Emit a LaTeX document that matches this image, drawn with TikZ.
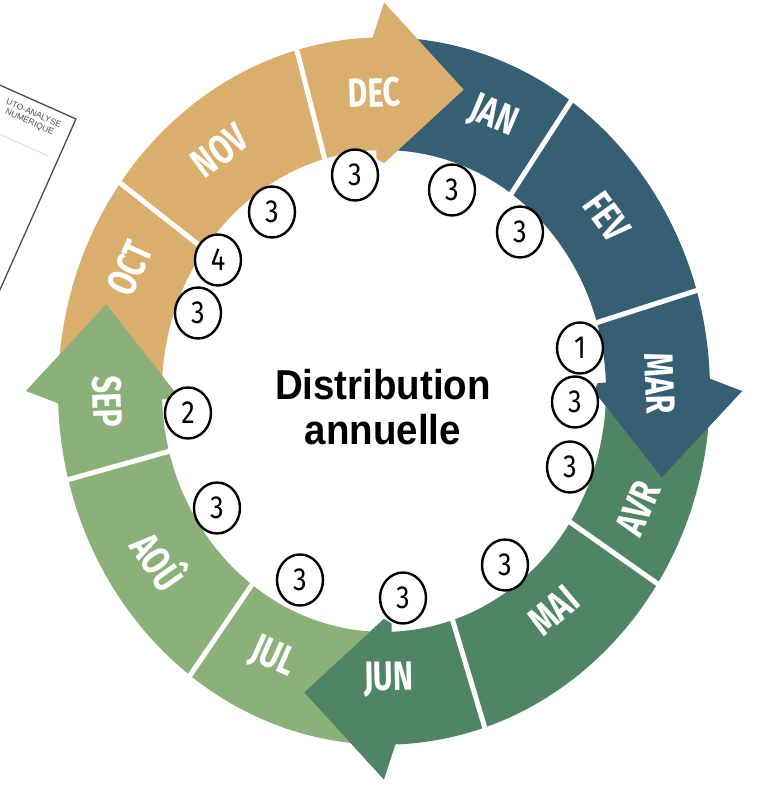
\documentclass[tikz,border=0pt]{standalone}
\usepackage{fontspec}
\setmainfont{Liberation Sans}
\newfontfamily\moisfont{Fira Sans}
\usepackage{graphicx}
\usetikzlibrary{shapes.geometric}

\definecolor{sable}{HTML}{DAAE6C}
\definecolor{ardoise}{HTML}{365F74}
\definecolor{vertfonce}{HTML}{4F8464}
\definecolor{vertclair}{HTML}{8BB07A}

% one arrow of the cycle: tail angle, head angle, colour
\newcommand{\fleche}[3]{%
	\fill[#3] (#1:326) arc[start angle=#1,end angle=#2,radius=326]
	-- (#2:358) -- ({#2-16}:289) -- (#2:210) -- (#2:222)
	arc[start angle=#2,end angle=#1,radius=222] -- cycle;}
% head again, on top of the next tail: base angle, colour
\newcommand{\pointe}[2]{%
	\fill[#2] ({#1+2}:214) -- ({#1+2}:326) -- (#1:358) -- ({#1-16}:289) -- (#1:210) -- cycle;}

\begin{document}
\begin{tikzpicture}
	[x=1pt,y=1.085pt%
	,separ/.style={white,line width=5pt}%
	,mois/.style={text=white,%
		inner sep=0pt,%
		font=\moisfont\bfseries\fontsize{41}{41}\selectfont}%
	,compte/.style={ellipse,%
		draw=black,%
		fill=white,%
		line width=2.4pt,%
		minimum width=46pt,%
		minimum height=51pt,%
		inner sep=0pt,%
		font=\moisfont\fontsize{32}{32}\selectfont}%
	,titre/.style={align=center,%
		inner sep=0pt,%
		font=\bfseries\fontsize{38.5}{45}\selectfont}%
	,fiche/.style={anchor=south east,%
		inner sep=0pt,%
		transform shape,%
		text=black!70,%
		font=\fontsize{8.5}{8.5}\selectfont}]
	\useasboundingbox (-384pt,-395pt) rectangle (373pt,391pt);

	% sheet in the corner
	\begin{scope}[x=1pt,y=1pt,shift={(-308pt,272pt)},rotate=-24]
		\filldraw[fill=white,draw=black!70,line width=1.3pt] (-260,-260) rectangle (0,0);
		\draw[black!15,line width=0.8pt] (-260,-45) -- (-10,-45);
		\node[fiche] (fiche1) at (-11,-15) {UTO-ANALYSE};
		\node[fiche] (fiche2) at (-15,-26) {NUMÉRIQUE};
	\end{scope}

	% the four arrows
	\fleche{180}{90}{sable}
	\fleche{90}{0}{ardoise}
	\fleche{0}{-90}{vertfonce}
	\fleche{270}{180}{vertclair}
	\pointe{90}{sable}
	\pointe{0}{ardoise}
	\pointe{-90}{vertfonce}
	\pointe{180}{vertclair}

	% months
	\foreach \a in {144,105.5,55,16.5,-33,-72,233.5,194.5}
		\draw[separ] (\a:218) -- (\a:330);
	\foreach \nom/\a/\r/\rot [count=\i] in {DEC/92/275/2,NOV/126.5/276/36.5,OCT/156/278/66,%
		SEP/182/277/-88,AOÛ/214.8/272/-55,JUL/245.7/270/-24,JUN/271/266/1,%
		MAI/-50/264/40,AVR/-23/276/67,MAR/1.5/276/-88.5,FEV/35.7/275/-54,JAN/66.6/275/-23}
		\node[mois,rotate=\rot] (m\i) at (\a:\r) {\scalebox{0.74}[1]{\nom}};

	% counts
	\foreach \x/\y/\v [count=\i] in {-29/216/3,68/201/3,136/159/3,196/43/1,191/-11/3,%
		186/-76/3,121/-174/3,19/-207/3,-84/-189/3,-167/-117/3,-196/-22/2,%
		-186/78/3,-166/131/4,-112/179/3}
		\node[compte] (c\i) at (\x pt,\y pt) {\scalebox{0.85}[1]{\v}};

	\node[titre] (centre) at (-1pt,-16pt) {\scalebox{1}[1.085]{Distribution}\\\scalebox{1}[1.085]{annuelle}};
\end{tikzpicture}
\end{document}
